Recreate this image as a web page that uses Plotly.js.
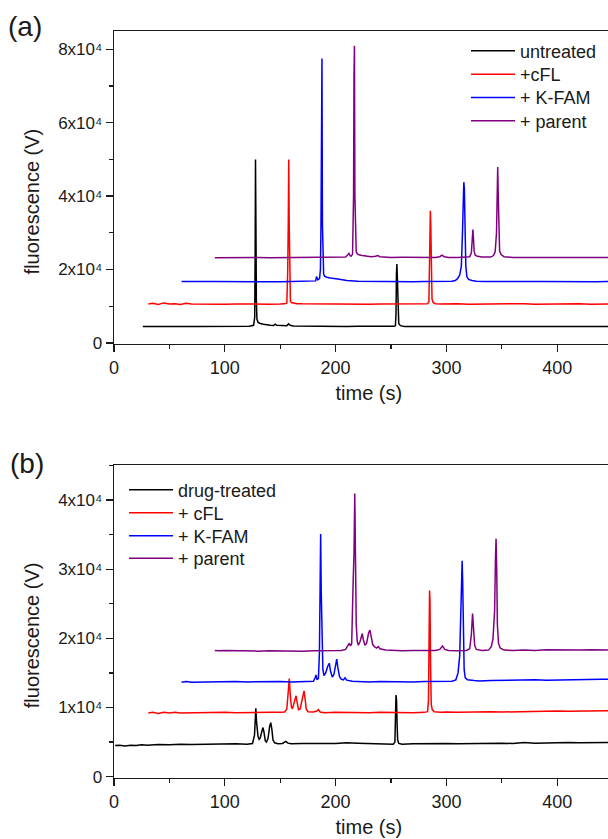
<!DOCTYPE html>
<html>
<head>
<meta charset="utf-8">
<script src="https://cdn.plot.ly/plotly-3.0.1.min.js"></script>
<style>
html,body{margin:0;padding:0;overflow:hidden;background:#fff;}
#chart{width:640px;height:839px;}
</style>
</head>
<body>
<div id="chart"></div>
<script>
// ---------- Panel (a) data: [time (s), fluorescence (V)] ----------
const aUntreated = [[26,4450],[35,4500],[45,4480],[55,4520],[65,4490],[75,4500],[85,4510],[95,4480],[105,4500],[115,4520],[122,4550],[126,4800],[127,7000],[127.4,25000],[127.7,50000],[128.1,31700],[128.5,11500],[129,6500],[130,5600],[132,5300],[135,5100],[138,4900],[141,4800],[144,4750],[145.5,5100],[147,4800],[150,4700],[153,4650],[156,4700],[157.5,5200],[159,4800],[162,4600],[170,4550],[180,4500],[190,4520],[200,4500],[210,4480],[220,4510],[230,4500],[240,4490],[250,4500],[253,4520],[254,4700],[254.5,8000],[254.9,18500],[255.3,21500],[255.7,18000],[256.2,9000],[257,5200],[258.5,4700],[262,4500],[270,4480],[280,4500],[290,4490],[300,4500],[310,4480],[320,4500],[330,4490],[340,4500],[350,4480],[360,4500],[370,4490],[380,4500],[390,4480],[400,4500],[410,4490],[420,4500],[430,4480],[440,4500],[450,4490],[460,4500]];
const aCFL = [[31,10600],[35,10800],[40,10500],[45,10900],[50,10600],[55,10700],[60,10500],[65,10800],[70,10600],[80,10550],[90,10600],[100,10550],[110,10600],[120,10550],[130,10600],[140,10550],[150,10600],[154,10650],[156,10900],[156.8,20000],[157.3,33500],[157.7,50000],[158.1,33000],[158.6,14000],[159.2,11500],[160,11000],[162,10800],[165,10700],[170,10650],[180,10600],[190,10550],[200,10600],[210,10550],[220,10600],[230,10550],[240,10600],[250,10580],[260,10550],[270,10600],[280,10600],[283,10700],[284.2,11200],[284.7,20000],[285.1,33000],[285.5,36000],[285.9,32000],[286.4,18000],[287,12000],[288,11000],[290,10700],[295,10600],[300,10550],[310,10650],[320,10550],[330,10600],[340,10650],[350,10550],[360,10800],[370,10700],[380,10550],[390,10600],[400,10550],[410,10600],[420,10650],[430,10550],[440,10600],[450,10550],[460,10600]];
const aKFAM = [[61,16700],[70,16650],[80,16700],[90,16750],[100,16700],[110,16650],[120,16700],[130,16750],[140,16700],[150,16650],[160,16700],[170,16700],[178,16750],[182,16900],[182.8,18100],[183.3,17600],[184,17200],[185.5,17500],[186.3,20000],[186.8,32000],[187.3,67500],[187.7,77500],[188.1,32500],[188.6,21000],[189.2,18800],[190,18200],[192,17900],[195,17700],[198,17500],[202,17400],[206,17200],[210,17000],[220,16800],[230,16750],[240,16700],[250,16800],[260,16700],[270,16650],[280,16700],[290,16750],[300,16700],[305,16800],[308,17000],[310,17500],[312,18500],[313.5,21000],[314.5,30000],[315.2,40000],[315.7,43800],[316.2,42000],[316.8,30000],[317.5,21000],[318.5,18000],[320,17300],[323,17000],[327,16800],[335,16700],[345,16650],[355,16700],[365,16750],[375,16700],[385,16700],[395,16650],[405,16700],[415,16750],[425,16700],[435,16650],[445,16700],[455,16700],[460,16700]];
const aParent = [[91,23200],[100,23250],[110,23200],[120,23200],[130,23250],[140,23200],[150,23200],[160,23250],[170,23200],[180,23200],[190,23250],[200,23200],[205,23250],[209,23400],[211,24000],[212,24400],[213,23800],[214,23600],[215.3,24200],[216.2,40000],[216.6,73500],[217,81000],[217.4,40000],[217.9,26000],[218.6,24800],[219.5,24300],[221,24000],[224,23800],[228,23600],[232,23500],[236,23600],[238,23800],[240,23500],[245,23400],[250,23300],[260,23350],[270,23300],[280,23250],[290,23300],[294,23500],[296,23900],[298,23500],[302,23300],[310,23250],[318,23300],[321,23500],[322.5,24500],[323.4,28000],[323.9,30900],[324.4,28500],[325,25000],[326,23900],[328,23600],[332,23400],[336,23300],[340,23400],[342.5,23800],[344,24800],[345.2,30000],[345.8,45000],[346.3,47900],[346.8,40000],[347.3,28000],[348,25000],[349.5,24000],[352,23500],[360,23300],[370,23350],[380,23250],[390,23300],[400,23250],[410,23300],[420,23250],[430,23300],[440,23250],[450,23300],[460,23250]];

// ---------- Panel (b) data ----------
const bDrug = [[1,4500],[5,4550],[10,4450],[15,4550],[20,4500],[25,4600],[30,4550],[40,4650],[50,4600],[60,4700],[70,4650],[80,4700],[90,4650],[100,4700],[110,4750],[120,4700],[125,4800],[126.8,6000],[127.5,9000],[128,9900],[128.6,8000],[129.3,6200],[130,5800],[131,5400],[132,5600],[133.5,6600],[134.5,7100],[135.5,6300],[136.5,5200],[137.5,5000],[139,5500],[140.5,7300],[141.5,7800],[142.5,6800],[143.5,5300],[145,4900],[148,4750],[152,4800],[155,5100],[157,4850],[160,4750],[170,4800],[180,4750],[190,4800],[200,4800],[210,4900],[220,4850],[230,4800],[240,4700],[248,4650],[252,4700],[253.5,5000],[254,8500],[254.5,11800],[255,11000],[255.5,7500],[256,5300],[257,4800],[260,4700],[270,4750],[280,4800],[290,4750],[300,4800],[310,4750],[320,4800],[330,4850],[340,4800],[350,4850],[360,4800],[370,4950],[380,4850],[390,4900],[400,4850],[410,4950],[420,4900],[430,4950],[440,4900],[450,4950],[460,4900]];
const bCFL = [[31,9200],[35,9300],[40,9150],[45,9300],[50,9200],[55,9300],[60,9200],[70,9250],[80,9300],[90,9250],[100,9300],[110,9250],[120,9300],[130,9250],[140,9300],[150,9300],[154,9350],[156,9800],[157.3,12500],[158.2,14200],[159,12000],[160,10200],[161,9800],[162,10300],[163.5,11300],[164.3,11700],[165.2,10800],[166.5,9700],[168,9800],[170,11500],[171.5,12400],[172.5,11200],[173.5,9800],[175,9400],[180,9350],[183,9500],[184.4,9700],[186,9350],[190,9250],[200,9300],[210,9250],[220,9300],[230,9250],[240,9300],[250,9250],[260,9300],[270,9250],[280,9300],[283,9400],[283.8,11000],[284.3,20000],[284.8,26900],[285.2,25400],[285.7,16000],[286.3,10500],[287.2,9700],[289,9400],[295,9300],[300,9350],[310,9300],[320,9350],[330,9300],[340,9400],[350,9350],[360,9400],[370,9450],[380,9400],[390,9450],[400,9500],[410,9450],[420,9500],[430,9550],[440,9500],[450,9550],[460,9500]];
const bKFAM = [[61,13650],[65,13750],[70,13650],[80,13700],[90,13750],[100,13700],[110,13750],[120,13700],[130,13750],[140,13700],[150,13750],[160,13700],[170,13750],[177,13750],[180,13800],[181.5,14300],[182.3,14700],[183.3,14000],[184.5,14200],[185.4,18000],[185.9,27500],[186.5,35100],[187,27000],[187.6,19000],[188.5,15500],[189.5,14600],[191,15000],[193,16000],[194.3,16400],[195.5,15200],[197,14400],[198.5,14800],[200,16500],[201,17000],[202,15800],[203.5,14500],[205,14100],[207,14000],[208.5,14300],[210,13950],[215,13800],[220,13750],[230,13700],[240,13750],[250,13700],[260,13750],[270,13700],[280,13750],[290,13800],[300,13750],[305,13800],[308.5,14000],[310.5,15000],[312,17500],[313.2,24000],[313.8,30000],[314.2,31200],[314.7,28000],[315.3,20000],[316,15500],[317,14300],[319,14000],[325,13900],[330,13850],[340,13900],[350,13950],[360,13900],[370,13950],[380,14000],[390,13950],[400,14000],[410,14050],[420,14000],[430,14050],[440,14100],[450,14050],[460,14100]];
const bParent = [[91,18250],[95,18200],[100,18250],[110,18200],[120,18250],[130,18150],[140,18200],[150,18150],[160,18200],[170,18150],[180,18200],[190,18200],[200,18200],[205,18250],[209,18400],[211,19000],[212.4,19300],[213.4,18900],[214.5,19200],[215.8,28000],[216.6,32300],[217.3,40950],[217.9,32000],[218.6,22000],[219.5,19600],[220.5,19000],[222,19500],[223.3,20500],[224.1,20700],[225,19800],[226.5,19000],[228,19300],[229.8,20800],[231,21200],[232.2,20000],[233.5,19100],[235,18800],[237,18600],[238.6,18800],[240,18500],[245,18300],[250,18250],[260,18200],[270,18250],[280,18200],[290,18250],[294,18400],[296.5,18900],[298.5,18400],[302,18250],[310,18200],[318,18250],[321,18500],[322.5,20500],[323.6,23600],[324.6,21500],[325.5,19000],[327,18400],[332,18250],[338,18300],[340.5,18800],[342,19900],[343.5,24000],[344.3,31700],[344.8,34400],[345.4,30000],[346,22000],[347,19300],[348.5,18600],[352,18300],[360,18250],[370,18300],[380,18250],[390,18350],[400,18300],[410,18350],[420,18300],[430,18350],[440,18300],[450,18350],[460,18300]];

const namesA = ['untreated', '+cFL', '+ K-FAM', '+ parent'];
const namesB = ['drug-treated', '+ cFL', '+ K-FAM', '+ parent'];
const xTickVals = [0, 100, 200, 300, 400];
const xTickText = ['0', '100', '200', '300', '400'];
const aYTickVals = [0, 20000, 40000, 60000, 80000];
const aYTickText = ['0', '2x10\u2074', '4x10\u2074', '6x10\u2074', '8x10\u2074'];
const bYTickVals = [0, 10000, 20000, 30000, 40000];
const bYTickText = ['0', '1x10\u2074', '2x10\u2074', '3x10\u2074', '4x10\u2074'];
const xTitle = 'time (s)';
const yTitle = 'fluorescence (V)';

// ---------- styling ----------
const colors = ['#000000', '#ff0000', '#0000ff', '#800080'];
const FONT = 'Liberation Sans, Arial, Helvetica, sans-serif';
const INK = '#1a1a1a';
const W = 640, H = 839;
const px = v => v / W;
const py = v => (H - v) / H;

function mk(data, name, color, xa, ya, legend) {
  return {
    type: 'scatter', mode: 'lines',
    x: data.map(p => p[0]), y: data.map(p => p[1]),
    name: name, xaxis: xa, yaxis: ya, legend: legend,
    line: {color: color, width: 1.5},
    hoverinfo: 'skip'
  };
}

const traces = [
  mk(aUntreated, namesA[0], colors[0], 'x', 'y', 'legend'),
  mk(aCFL, namesA[1], colors[1], 'x', 'y', 'legend2'),
  mk(aKFAM, namesA[2], colors[2], 'x', 'y', 'legend3'),
  mk(aParent, namesA[3], colors[3], 'x', 'y', 'legend4'),
  mk(bDrug, namesB[0], colors[0], 'x2', 'y2', 'legend5'),
  mk(bCFL, namesB[1], colors[1], 'x2', 'y2', 'legend6'),
  mk(bKFAM, namesB[2], colors[2], 'x2', 'y2', 'legend7'),
  mk(bParent, namesB[3], colors[3], 'x2', 'y2', 'legend8')
];

function xAxis(anchor, dom) {
  return {
    anchor: anchor, domain: dom, range: [0, 460],
    tickmode: 'array', tickvals: xTickVals, ticktext: xTickText,
    ticks: 'outside', ticklen: 7, tickwidth: 1.3, tickcolor: INK,
    minor: {dtick: 50, tick0: 0, ticks: 'outside', ticklen: 4, tickwidth: 1.3, tickcolor: INK, showgrid: false},
    showline: true, mirror: true, linecolor: INK, linewidth: 1.3,
    showgrid: false, zeroline: false,
    tickfont: {family: FONT, size: 18, color: INK},
    title: {text: xTitle, font: {family: FONT, size: 20, color: INK}, standoff: 9}
  };
}
function yAxis(anchor, dom, range, tv, tt, minorStep) {
  return {
    anchor: anchor, domain: dom, range: range,
    tickmode: 'array', tickvals: tv, ticktext: tt,
    ticks: 'outside', ticklen: 7, tickwidth: 1.3, tickcolor: INK,
    minor: {dtick: minorStep, tick0: 0, ticks: 'outside', ticklen: 4, tickwidth: 1.3, tickcolor: INK, showgrid: false},
    showline: true, mirror: true, linecolor: INK, linewidth: 1.3,
    showgrid: false, zeroline: false,
    tickfont: {family: FONT, size: 17, color: INK}
  };
}
function leg(xPx, yPx) {
  return {x: px(xPx), y: py(yPx), xanchor: 'left', yanchor: 'middle', bgcolor: 'rgba(0,0,0,0)',
          itemwidth: 44, font: {family: FONT, size: 18, color: INK}};
}

const xDom = [px(114), px(623.7)];
const layout = {
  width: W, height: H,
  margin: {l: 0, r: 0, t: 0, b: 0},
  paper_bgcolor: '#ffffff', plot_bgcolor: '#ffffff',
  font: {family: FONT, color: INK},
  showlegend: true,
  xaxis: xAxis('y', xDom),
  yaxis: yAxis('x', [py(344), py(31)], [-300, 85000], aYTickVals, aYTickText, 10000),
  xaxis2: xAxis('y2', xDom),
  yaxis2: yAxis('x2', [py(778), py(465)], [-190, 45060], bYTickVals, bYTickText, 5000),
  legend: leg(466, 51),
  legend2: leg(466, 74.5),
  legend3: leg(466, 97.7),
  legend4: leg(466, 121),
  legend5: leg(124, 490),
  legend6: leg(124, 513),
  legend7: leg(124, 536),
  legend8: leg(124, 558.5),
  annotations: [
    {text: '(a)', xref: 'paper', yref: 'paper', x: px(24.5), y: py(27), xanchor: 'center', yanchor: 'middle',
     showarrow: false, font: {family: FONT, size: 28, color: INK}},
    {text: '(b)', xref: 'paper', yref: 'paper', x: px(27), y: py(463), xanchor: 'center', yanchor: 'middle',
     showarrow: false, font: {family: FONT, size: 28, color: INK}},
    {text: yTitle, xref: 'paper', yref: 'paper', x: px(31.7), y: py(201.7), xanchor: 'center', yanchor: 'middle',
     textangle: -90, showarrow: false, font: {family: FONT, size: 20, color: INK}},
    {text: yTitle, xref: 'paper', yref: 'paper', x: px(31.7), y: py(635.5), xanchor: 'center', yanchor: 'middle',
     textangle: -90, showarrow: false, font: {family: FONT, size: 20, color: INK}}
  ]
};

Plotly.newPlot('chart', traces, layout, {staticPlot: true, displayModeBar: false});
</script>
</body>
</html>
